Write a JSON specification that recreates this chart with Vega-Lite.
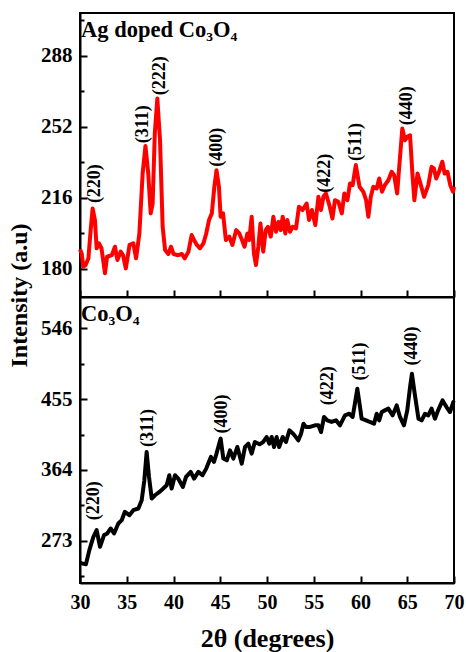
{
  "$schema": "https://vega.github.io/schema/vega-lite/v6.json",
  "padding": {"left": 6, "top": 12, "right": 2, "bottom": 5},
  "background": "white",
  "spacing": 0,
  "bounds": "flush",
  "config": {
    "view": {"stroke": "black", "strokeWidth": 2},
    "axis": {"grid": false, "domainColor": "black", "domainWidth": 2, "tickColor": "black", "tickWidth": 2, "labelFont": "Liberation Serif", "labelFontWeight": "bold", "labelColor": "black", "labelFlush": false, "titleFont": "Liberation Serif", "titleFontWeight": "bold", "titleColor": "black"},
    "text": {"font": "Liberation Serif", "fontWeight": "bold", "color": "black"}
  },
  "datasets": {
    "ag": [
      {"t":30.0,"i":190},{"t":30.18,"i":187.9},{"t":30.36,"i":181.2},{"t":30.6,"i":182},{"t":30.9,"i":185.4},{"t":31.14,"i":199.7},{"t":31.35,"i":210.7},{"t":31.6,"i":204.8},{"t":31.78,"i":190.5},{"t":32.03,"i":193},{"t":32.3,"i":190.5},{"t":32.67,"i":177.8},{"t":32.9,"i":186.2},{"t":33.4,"i":187},{"t":33.74,"i":191.3},{"t":34.0,"i":184.6},{"t":34.35,"i":188.8},{"t":34.6,"i":187},{"t":34.9,"i":180.3},{"t":35.3,"i":192.2},{"t":35.7,"i":193},{"t":36.0,"i":185.4},{"t":36.35,"i":198},{"t":36.7,"i":228.4},{"t":37.0,"i":242.4},{"t":37.3,"i":228.4},{"t":37.56,"i":208.2},{"t":37.77,"i":213.2},{"t":38.0,"i":248.7},{"t":38.27,"i":266.4},{"t":38.56,"i":245.3},{"t":38.84,"i":201.4},{"t":39.1,"i":189.6},{"t":39.45,"i":187.6},{"t":39.73,"i":191.3},{"t":40.0,"i":187.6},{"t":40.5,"i":187},{"t":40.9,"i":187.6},{"t":41.2,"i":185.4},{"t":41.6,"i":188.8},{"t":41.94,"i":197.2},{"t":42.2,"i":194.7},{"t":42.5,"i":192.2},{"t":42.83,"i":190.5},{"t":43.2,"i":193},{"t":43.5,"i":198},{"t":43.8,"i":204.8},{"t":44.1,"i":208.2},{"t":44.37,"i":221.7},{"t":44.6,"i":230.1},{"t":44.86,"i":221.7},{"t":45.04,"i":206.5},{"t":45.3,"i":208.2},{"t":45.6,"i":194.7},{"t":45.97,"i":196.4},{"t":46.3,"i":192.2},{"t":46.7,"i":199.7},{"t":47.04,"i":198},{"t":47.33,"i":194.7},{"t":47.6,"i":191.3},{"t":47.9,"i":198},{"t":48.1,"i":194.7},{"t":48.36,"i":206.5},{"t":48.6,"i":187.9},{"t":48.82,"i":182},{"t":49.07,"i":191.3},{"t":49.3,"i":203.1},{"t":49.6,"i":188.8},{"t":49.86,"i":199.7},{"t":50.1,"i":201.4},{"t":50.4,"i":196.4},{"t":50.68,"i":206.5},{"t":50.96,"i":198.9},{"t":51.24,"i":203.9},{"t":51.46,"i":199.7},{"t":51.68,"i":206.5},{"t":51.96,"i":198},{"t":52.17,"i":204.8},{"t":52.46,"i":198.9},{"t":52.75,"i":201.4},{"t":53.1,"i":200.6},{"t":53.42,"i":211.6},{"t":53.8,"i":209.9},{"t":54.24,"i":213.2},{"t":54.5,"i":204.8},{"t":54.8,"i":209.9},{"t":55.17,"i":202.3},{"t":55.5,"i":216.6},{"t":55.78,"i":209.9},{"t":56.03,"i":216.6},{"t":56.3,"i":218.3},{"t":56.67,"i":212.4},{"t":57.0,"i":205.6},{"t":57.27,"i":214.9},{"t":57.63,"i":214.1},{"t":58.0,"i":208.2},{"t":58.27,"i":218.3},{"t":58.6,"i":214.9},{"t":58.88,"i":223.4},{"t":59.16,"i":222.5},{"t":59.5,"i":232.7},{"t":59.9,"i":221.7},{"t":60.3,"i":219.2},{"t":60.6,"i":214.9},{"t":60.84,"i":206.5},{"t":61.1,"i":216.6},{"t":61.37,"i":221.7},{"t":61.73,"i":220.8},{"t":62.0,"i":225.9},{"t":62.3,"i":219.2},{"t":62.6,"i":222.5},{"t":62.98,"i":225},{"t":63.33,"i":229.3},{"t":63.6,"i":227.6},{"t":63.92,"i":218.3},{"t":64.2,"i":235.2},{"t":64.47,"i":251.2},{"t":64.76,"i":245.3},{"t":65.0,"i":247},{"t":65.3,"i":247.8},{"t":65.55,"i":228.4},{"t":65.76,"i":214.9},{"t":66.1,"i":228.4},{"t":66.36,"i":224.2},{"t":66.8,"i":216.6},{"t":67.25,"i":222.5},{"t":67.6,"i":231.8},{"t":67.85,"i":231},{"t":68.1,"i":225.9},{"t":68.4,"i":229.3},{"t":68.75,"i":234.4},{"t":69.0,"i":228.4},{"t":69.3,"i":229.3},{"t":69.6,"i":222.5},{"t":69.9,"i":219.2},{"t":70.0,"i":221.7}
    ],
    "pure": [
      {"t":30.0,"i":245},{"t":30.18,"i":244},{"t":30.64,"i":243},{"t":31.0,"i":261},{"t":31.43,"i":278},{"t":31.78,"i":286.7},{"t":32.14,"i":265.3},{"t":32.57,"i":280.3},{"t":32.92,"i":282.4},{"t":33.28,"i":288.8},{"t":33.64,"i":282.4},{"t":34.1,"i":295.2},{"t":34.46,"i":299.5},{"t":34.8,"i":310.2},{"t":35.28,"i":305.9},{"t":35.7,"i":312.3},{"t":36.24,"i":314.5},{"t":36.6,"i":325.1},{"t":36.88,"i":350.8},{"t":37.13,"i":387.1},{"t":37.38,"i":355},{"t":37.67,"i":327.3},{"t":38.02,"i":331.5},{"t":38.5,"i":335.8},{"t":38.9,"i":340.1},{"t":39.27,"i":344.4},{"t":39.55,"i":357.2},{"t":39.8,"i":340.1},{"t":40.16,"i":357.2},{"t":40.5,"i":352.9},{"t":41.0,"i":342.2},{"t":41.34,"i":355},{"t":41.84,"i":361.5},{"t":42.2,"i":352.9},{"t":42.66,"i":361.5},{"t":43.1,"i":357.2},{"t":43.5,"i":365.7},{"t":44.0,"i":380.7},{"t":44.33,"i":374.3},{"t":44.6,"i":385},{"t":45.04,"i":404.2},{"t":45.33,"i":378.6},{"t":45.7,"i":376.4},{"t":46.04,"i":389.2},{"t":46.4,"i":378.6},{"t":46.83,"i":393.5},{"t":47.3,"i":372.1},{"t":47.65,"i":393.5},{"t":48.0,"i":397.8},{"t":48.36,"i":385},{"t":48.7,"i":399.9},{"t":49.2,"i":396.9},{"t":49.6,"i":399.9},{"t":49.96,"i":406.3},{"t":50.25,"i":397.8},{"t":50.5,"i":406.3},{"t":50.75,"i":393.5},{"t":51.03,"i":406.3},{"t":51.3,"i":393.5},{"t":51.68,"i":406.3},{"t":52.03,"i":399.9},{"t":52.4,"i":414.9},{"t":52.8,"i":410.6},{"t":53.35,"i":402},{"t":53.64,"i":410.6},{"t":53.9,"i":423.4},{"t":54.17,"i":419.2},{"t":54.6,"i":419.2},{"t":55.13,"i":421.3},{"t":55.5,"i":421.3},{"t":55.78,"i":412.7},{"t":56.1,"i":432},{"t":56.45,"i":427.7},{"t":56.9,"i":425.6},{"t":57.38,"i":427.7},{"t":57.8,"i":421.3},{"t":58.34,"i":434.1},{"t":58.8,"i":436.2},{"t":59.16,"i":432},{"t":59.4,"i":449.1},{"t":59.66,"i":468.3},{"t":59.95,"i":444.8},{"t":60.12,"i":429.8},{"t":60.6,"i":427.7},{"t":61.0,"i":425.6},{"t":61.45,"i":423.4},{"t":61.73,"i":436.2},{"t":62.0,"i":427.7},{"t":62.27,"i":438.4},{"t":62.6,"i":440.5},{"t":62.98,"i":442.7},{"t":63.44,"i":434.1},{"t":63.87,"i":446.9},{"t":64.22,"i":432},{"t":64.65,"i":421.3},{"t":65.0,"i":440.5},{"t":65.3,"i":470.4},{"t":65.5,"i":487.5},{"t":65.8,"i":461.9},{"t":66.2,"i":429.8},{"t":66.54,"i":427.7},{"t":66.9,"i":436.2},{"t":67.25,"i":434.1},{"t":67.6,"i":442.7},{"t":67.96,"i":429.8},{"t":68.3,"i":440.5},{"t":68.78,"i":453.3},{"t":69.2,"i":444.8},{"t":69.57,"i":438.4},{"t":69.93,"i":451.2},{"t":70.0,"i":450}
    ],
    "agpeaks": [
      {"t":31.6,"i":213.4,"label":"(220)"},{"t":36.77,"i":243.8,"label":"(311)"},{"t":38.56,"i":268.1,"label":"(222)"},{"t":44.7,"i":231.8,"label":"(400)"},{"t":56.2,"i":218.6,"label":"(422)"},{"t":59.5,"i":234.8,"label":"(511)"},{"t":65.0,"i":252.9,"label":"(440)"}
    ],
    "purepeaks": [
      {"t":31.5,"i":299.5,"label":"(220)"},{"t":37.3,"i":393.5,"label":"(311)"},{"t":45.15,"i":410.7,"label":"(400)"},{"t":56.55,"i":447,"label":"(422)"},{"t":59.95,"i":479,"label":"(511)"},{"t":65.5,"i":498,"label":"(440)"}
    ],
    "aglabel": [{"t":30.12,"i":297.5,"label":"Ag doped Co₃O₄"}],
    "purelabel": [{"t":30.12,"i":555,"label":"Co₃O₄"}]
  },
  "vconcat": [
    {
      "width": 374,
      "height": 284,
      "layer": [
        {
          "data": {"name": "ag"},
          "mark": {"type": "line", "color": "#ff0000", "strokeWidth": 4, "strokeJoin": "round"},
          "encoding": {
            "x": {"field": "t", "type": "quantitative", "scale": {"domain": [30, 70], "nice": false},
                  "axis": {"values": [30,32.5,35,37.5,40,42.5,45,47.5,50,52.5,55,57.5,60,62.5,65,67.5,70], "labels": false, "title": null,
                           "tickSize": {"condition": {"test": "datum.value % 5 === 0", "value": -7}, "value": -4}}},
            "y": {"field": "i", "type": "quantitative", "scale": {"domain": [165.8, 309.8], "nice": false, "zero": false},
                  "axis": {"values": [180,198,216,234,252,270,288,306], "labelFontSize": 21, "labelPadding": 15,
                           "labelExpr": "(datum.value - 180) % 36 === 0 ? datum.label : ''",
                           "tickSize": {"condition": {"test": "(datum.value - 180) % 36 === 0", "value": -7}, "value": -4},
                           "title": "Intensity (a.u)", "titleFontSize": 24, "titleX": -54, "titleY": 282, "titleAngle": 270, "titleAlign": "center", "titleBaseline": "alphabetic"}}
          }
        },
        {
          "data": {"name": "agpeaks"},
          "mark": {"type": "text", "angle": 270, "align": "left", "baseline": "middle", "fontSize": 18},
          "encoding": {"x": {"field": "t", "type": "quantitative"}, "y": {"field": "i", "type": "quantitative"}, "text": {"field": "label"}}
        },
        {
          "data": {"name": "aglabel"},
          "mark": {"type": "text", "align": "left", "baseline": "alphabetic", "fontSize": 22.5},
          "encoding": {"x": {"field": "t", "type": "quantitative"}, "y": {"field": "i", "type": "quantitative"}, "text": {"field": "label"}}
        }
      ]
    },
    {
      "width": 374,
      "height": 286,
      "layer": [
        {
          "data": {"name": "pure"},
          "mark": {"type": "line", "color": "#000000", "strokeWidth": 4, "strokeJoin": "round"},
          "encoding": {
            "x": {"field": "t", "type": "quantitative", "scale": {"domain": [30, 70], "nice": false},
                  "axis": {"values": [30,32.5,35,37.5,40,42.5,45,47.5,50,52.5,55,57.5,60,62.5,65,67.5,70],
                           "labelExpr": "datum.value % 5 === 0 ? datum.label : ''", "labelFontSize": 20, "labelPadding": 16,
                           "tickSize": {"condition": {"test": "datum.value % 5 === 0", "value": -7}, "value": -4},
                           "title": "2θ (degrees)", "titleFontSize": 26, "titlePadding": 13}},
            "y": {"field": "i", "type": "quantitative", "scale": {"domain": [218.8, 586.1], "nice": false, "zero": false},
                  "axis": {"values": [227.5,273,318.5,364,409.5,455,500.5,546], "labelFontSize": 21, "labelPadding": 15,
                           "labelExpr": "(datum.value - 273) % 91 === 0 ? datum.label : ''",
                           "tickSize": {"condition": {"test": "(datum.value - 273) % 91 === 0", "value": -7}, "value": -4},
                           "title": null}}
          }
        },
        {
          "data": {"name": "purepeaks"},
          "mark": {"type": "text", "angle": 270, "align": "left", "baseline": "middle", "fontSize": 18},
          "encoding": {"x": {"field": "t", "type": "quantitative"}, "y": {"field": "i", "type": "quantitative"}, "text": {"field": "label"}}
        },
        {
          "data": {"name": "purelabel"},
          "mark": {"type": "text", "align": "left", "baseline": "alphabetic", "fontSize": 22.5},
          "encoding": {"x": {"field": "t", "type": "quantitative"}, "y": {"field": "i", "type": "quantitative"}, "text": {"field": "label"}}
        }
      ]
    }
  ]
}
